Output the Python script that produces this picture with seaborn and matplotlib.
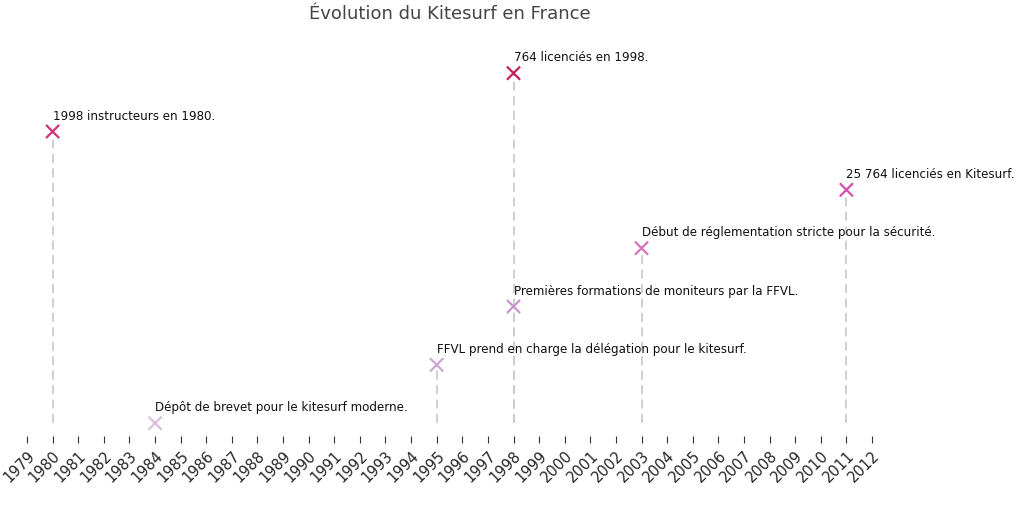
import matplotlib
matplotlib.use("Agg")
import matplotlib.pyplot as plt
import pandas as pd
import seaborn as sns

# event data
years = [1984, 1995, 1998, 2003, 2011, 1980, 1998]
levels = [0, 1, 2, 3, 4, 5, 6]
labels = [
    "Dépôt de brevet pour le kitesurf moderne.",
    "FFVL prend en charge la délégation pour le kitesurf.",
    "Premières formations de moniteurs par la FFVL.",
    "Début de réglementation stricte pour la sécurité.",
    "25 764 licenciés en Kitesurf.",
    "1998 instructeurs en 1980.",
    "764 licenciés en 1998.",
]
colors = ["#dcbfe0", "#cfa6d3", "#c896cc", "#d772bd", "#d351a9", "#d6317f", "#c81d5f"]
tick_years = list(range(1979, 2013))

df = pd.DataFrame({"year": years, "level": levels, "label": labels})

sns.set_style("white")
fig = plt.figure(figsize=(10.24, 5.10), dpi=100)
ax = fig.add_axes([27 / 1024, 73 / 510, 845 / 1024, 392 / 510])

ax.vlines(df["year"], 0, df["level"], colors="#cccccc", linestyles=(0, (5, 3)), linewidth=1.3, zorder=1)
sns.scatterplot(data=df, x="year", y="level", hue="label", palette=colors, marker="x",
                s=90, linewidth=1.6, legend=False, ax=ax, zorder=3)
for _, r in df.iterrows():
    ax.annotate(r["label"], (r["year"], r["level"]), xytext=(0, 7), textcoords="offset points",
                fontsize=8.6, color="#111111", ha="left", va="bottom")

ax.set_xlim(1979, 2012)
ax.set_ylim(-0.22, 6.5)
ax.set_xticks(tick_years)
ax.set_xticklabels([str(y) for y in tick_years], rotation=45, ha="right", rotation_mode="anchor", fontsize=10.5)
ax.tick_params(axis="x", bottom=True, length=5, color="#333333", pad=3)
ax.set_yticks([])
ax.set_xlabel("")
ax.set_ylabel("")
for s in ["left", "right", "top", "bottom"]:
    ax.spines[s].set_visible(False)
ax.set_title("Évolution du Kitesurf en France", fontsize=13, color="#444444", y=1.045)

fig.savefig("out.png", dpi=100)
